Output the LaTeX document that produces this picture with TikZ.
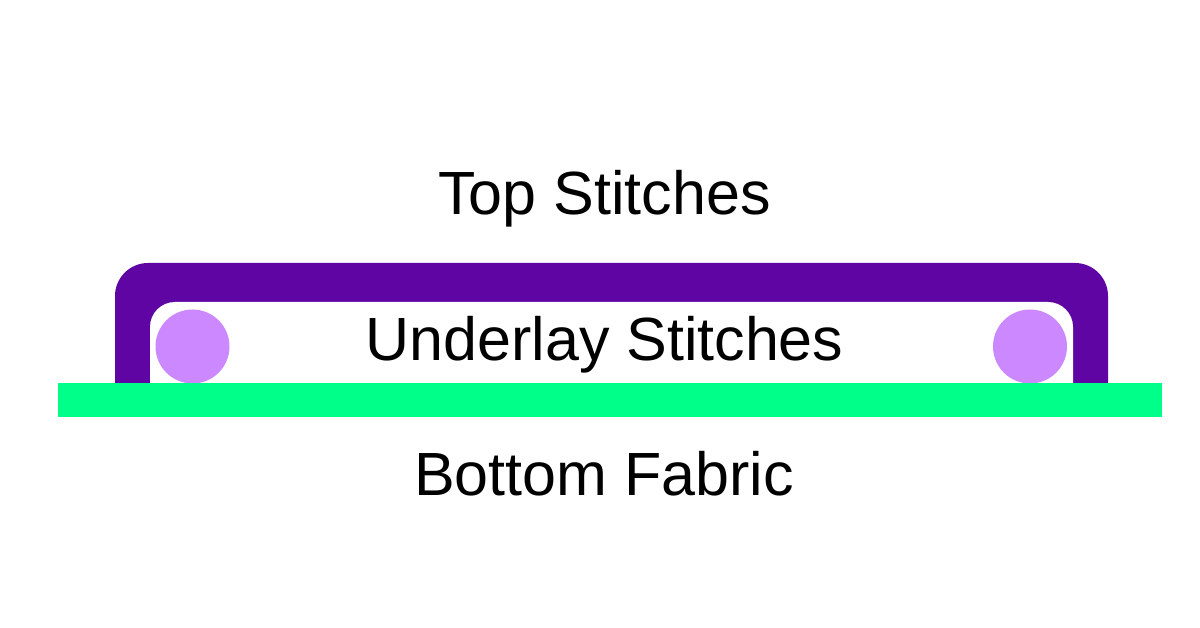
\documentclass[tikz,border=0pt]{standalone}
\usepackage{fontspec}
\setmainfont{Liberation Sans}
\definecolor{topstitch}{RGB}{94,5,163}
\definecolor{underlay}{RGB}{204,136,255}
\definecolor{fabric}{RGB}{0,255,136}
\tikzset{
  label/.style={anchor=base, inner sep=0pt, font=\fontsize{61}{73}\selectfont, text=black},
  bead/.style={circle, fill=underlay, draw=none, minimum size=74pt, inner sep=0pt}
}
\begin{document}
\begin{tikzpicture}[x=1pt,y=-1pt]
\useasboundingbox (0,0) rectangle (1200,628);
\fill[white] (0,0) rectangle (1200,628);
% top stitch (purple frame)
\fill[topstitch, rounded corners=33pt] (115,263) rectangle (1108,416);
\fill[white, rounded corners=25pt] (150,302) rectangle (1073,416);
% underlay beads
\node[bead] (beadL) at (192.5,346.5) {};
\node[bead] (beadR) at (1030,346.5) {};
% fabric
\fill[fabric] (58,383) rectangle (1162,417);
% labels
\node[label] (top) at (604.5,215) {Top Stitches};
\node[label] (under) at (604.5,360) {Underlay Stitches};
\node[label] (bottom) at (604,495) {Bottom Fabric};
\end{tikzpicture}
\end{document}
